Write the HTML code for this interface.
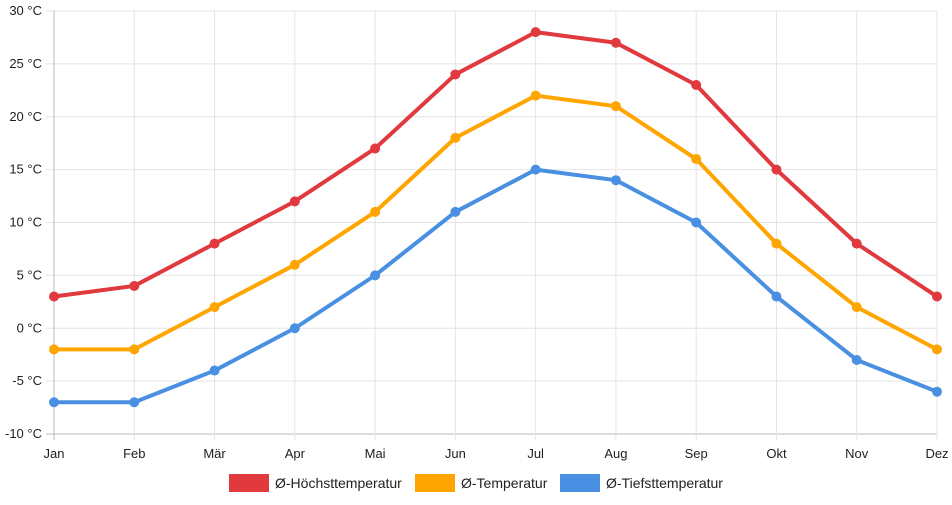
<!DOCTYPE html>
<html><head><meta charset="utf-8"><style>
body{margin:0;background:#fff;font-family:"Liberation Sans",sans-serif;}
svg text{font-family:"Liberation Sans",sans-serif;font-size:13px;fill:#222;}
</style></head><body>
<svg id="c" width="952" height="500"></svg>
<script>
const months=["Jan","Feb","Mär","Apr","Mai","Jun","Jul","Aug","Sep","Okt","Nov","Dez"];
const highTemps=[3,4,8,12,17,24,28,27,23,15,8,3];
const avgTemps=[-2,-2,2,6,11,18,22,21,16,8,2,-2];
const lowTemps=[-7,-7,-4,0,5,11,15,14,10,3,-3,-6];
const yTicks=[-10,-5,0,5,10,15,20,25,30];
const seriesNames=["Ø-Höchsttemperatur","Ø-Temperatur","Ø-Tiefsttemperatur"];
const NS="http://www.w3.org/2000/svg";
const svg=document.getElementById('c');
const x0=54,x1=937,yTop=11,yBot=434;
const xs=i=>x0+i*(x1-x0)/(months.length-1);
const ys=v=>yBot-(v+10)*(yBot-yTop)/40;
function mk(t,a){const e=document.createElementNS(NS,t);for(const k in a)e.setAttribute(k,a[k]);svg.appendChild(e);return e;}
yTicks.forEach(v=>{
 const l=mk('line',{x1:46,x2:x1,y1:ys(v),y2:ys(v),stroke:v===-10?'#bbb':'#e4e4e4'});
 
 
 const t=mk('text',{x:42,y:ys(v)+4,'text-anchor':'end'});t.textContent=v+' °C';
 
 
});
months.forEach((m,i)=>{
 const l=mk('line',{x1:xs(i),x2:xs(i),y1:yTop,y2:yBot+6,stroke:i===0?'#bbb':'#e4e4e4'});
 
 
 const t=mk('text',{x:xs(i),y:yBot+24,'text-anchor':'middle'});t.textContent=m;
 
 
});
const colors=["#e0393e","#ffa500","#4a90e2"];
[highTemps,avgTemps,lowTemps].forEach((d,si)=>{
 const p=mk('polyline',{points:d.map((v,i)=>xs(i)+','+ys(v)).join(' '),fill:'none',stroke:colors[si],'stroke-width':4,'stroke-linejoin':'round'});
 
 
 d.forEach((v,i)=>{
  const c=mk('circle',{cx:xs(i),cy:ys(v),r:5,fill:colors[si]});
  
  
 });
});
const lx=[229,415,560];
seriesNames.forEach((n,i)=>{
 const r=mk('rect',{x:lx[i],y:474,width:40,height:18,fill:colors[i]});
 
 
 const t=mk('text',{x:lx[i]+46,y:488,style:'font-size:14px'});t.textContent=n;
 
 
});
</script>
</body></html>
